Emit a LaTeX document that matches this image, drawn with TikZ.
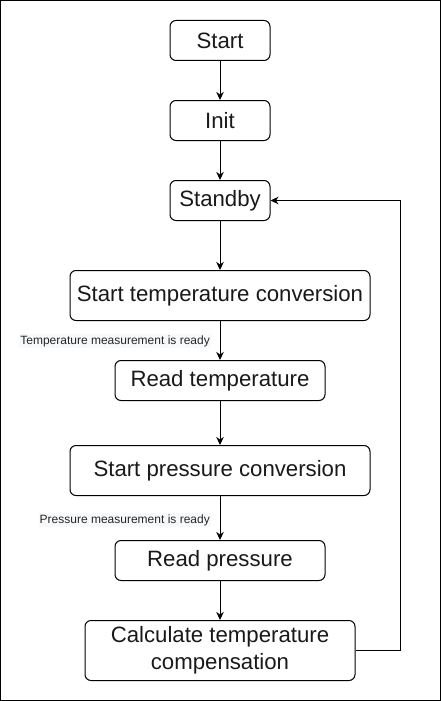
\documentclass[tikz,border=0pt]{standalone}
\usepackage{fontspec}
\setmainfont{Liberation Sans}
\usetikzlibrary{arrows.meta}
\definecolor{lblbg}{HTML}{F8F9FA}
\begin{document}
\begin{tikzpicture}[x=1pt,y=-1pt,
  box/.style={draw, line width=1pt, rounded corners=6pt, inner sep=0pt, align=center, font=\fontsize{22.2}{26}\selectfont, text=black!90},
  arr/.style={draw, line width=1pt, -{Stealth[length=8pt,width=7.5pt,inset=2.5pt]}},
  lbl/.style={fill=lblbg, inner xsep=1pt, inner ysep=1pt, font=\fontsize{12}{13}\selectfont, text=black!85, anchor=east}]
\useasboundingbox (0,0) rectangle (441,701);
\draw[line width=1.2pt] (0.8,0.8) rectangle (440.2,700.2);
\node[box, minimum width=100pt, minimum height=40pt] (start) at (220,40.5) {Start};
\node[box, minimum width=100pt, minimum height=40pt] (init) at (220,120.5) {Init};
\node[box, minimum width=100pt, minimum height=40pt] (standby) at (220,200.5) {Standby};
\node[box, minimum width=300pt, minimum height=50pt] (stc) at (220,295.5) {Start temperature conversion};
\node[box, minimum width=210pt, minimum height=40pt] (rt) at (220,380.5) {Read temperature};
\node[box, minimum width=300pt, minimum height=50pt] (spc) at (220,470.5) {Start pressure conversion};
\node[box, minimum width=210pt, minimum height=40pt] (rp) at (220,560.5) {Read pressure};
\node[box, minimum width=270pt, minimum height=60pt] (calc) at (220,650.5) {Calculate temperature\\[1pt]compensation};
\coordinate (loop) at (400,650.5);
\draw[arr] (start) -- (init);
\draw[arr] (init) -- (standby);
\draw[arr] (standby) -- (stc);
\draw[arr] (stc) -- (rt);
\draw[arr] (rt) -- (spc);
\draw[arr] (spc) -- (rp);
\draw[arr] (rp) -- (calc);
\draw[arr] (calc.east) -- (loop) |- (standby.east);
\node[lbl] (l1) at (211,341) {Temperature measurement is ready};
\node[lbl] (l2) at (211,520) {Pressure measurement is ready};
\end{tikzpicture}
\end{document}
